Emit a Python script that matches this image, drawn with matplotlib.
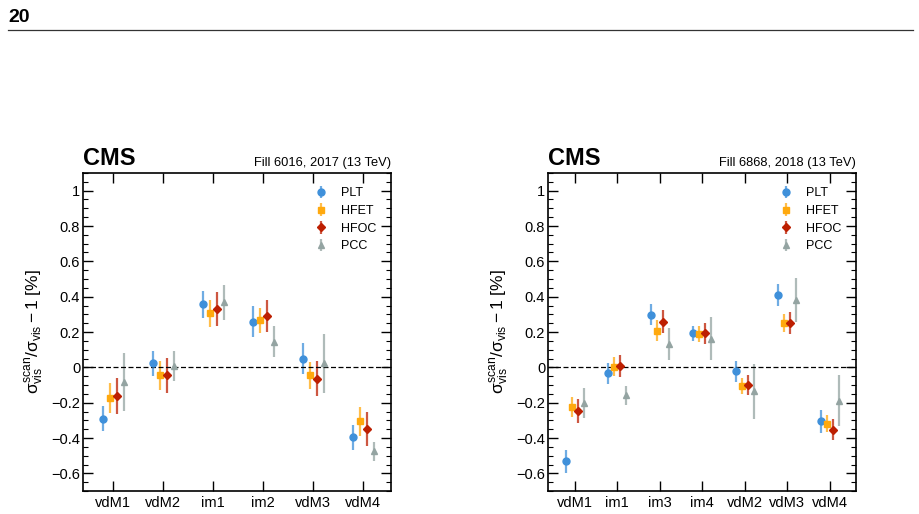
import matplotlib
matplotlib.use("Agg")
import matplotlib.pyplot as plt
from matplotlib.ticker import MultipleLocator
import numpy as np

plt.rcParams['font.family'] = ['Liberation Sans', 'DejaVu Sans']
plt.rcParams['mathtext.fontset'] = 'custom'
plt.rcParams['mathtext.rm'] = 'Liberation Sans'
plt.rcParams['mathtext.it'] = 'Liberation Sans'
plt.rcParams['mathtext.bf'] = 'Liberation Sans:bold'

detectors = ['PLT', 'HFET', 'HFOC', 'PCC']
colors = ['#3f90da', '#ffa90e', '#bd1f01', '#94a4a2']
markers = ['o', 's', 'D', '^']

# 2017, Fill 6016
cats_2017 = ['vdM1', 'vdM2', 'im1', 'im2', 'vdM3', 'vdM4']
plt_2017 = [-0.291, 0.023, 0.357, 0.259, 0.049, -0.397]
plt_2017_err = [0.07, 0.07, 0.077, 0.089, 0.087, 0.07]
hfet_2017 = [-0.174, -0.045, 0.306, 0.267, -0.045, -0.306]
hfet_2017_err = [0.085, 0.083, 0.076, 0.07, 0.076, 0.082]
hfoc_2017 = [-0.163, -0.045, 0.329, 0.291, -0.064, -0.348]
hfoc_2017_err = [0.10, 0.10, 0.095, 0.09, 0.10, 0.097]
pcc_2017 = [-0.083, 0.008, 0.367, 0.146, 0.023, -0.476]
pcc_2017_err = [0.165, 0.085, 0.10, 0.09, 0.167, 0.055]

# 2018, Fill 6868
cats_2018 = ['vdM1', 'im1', 'im3', 'im4', 'vdM2', 'vdM3', 'vdM4']
plt_2018 = [-0.533, -0.034, 0.299, 0.193, -0.023, 0.41, -0.306]
plt_2018_err = [0.066, 0.06, 0.057, 0.043, 0.06, 0.06, 0.065]
hfet_2018 = [-0.223, 0.004, 0.208, 0.189, -0.106, 0.25, -0.318]
hfet_2018_err = [0.057, 0.053, 0.06, 0.044, 0.047, 0.05, 0.05]
hfoc_2018 = [-0.246, 0.008, 0.259, 0.193, -0.098, 0.25, -0.352]
hfoc_2018_err = [0.067, 0.06, 0.065, 0.06, 0.057, 0.062, 0.06]
pcc_2018 = [-0.204, -0.159, 0.132, 0.163, -0.136, 0.382, -0.189]
pcc_2018_err = [0.085, 0.055, 0.09, 0.12, 0.157, 0.125, 0.144]

offsets = [-0.21, -0.07, 0.07, 0.21]

fig = plt.figure(figsize=(9.2, 5.14), dpi=100)

# page header
fig.text(8/920, 1 - 18/514, '20', fontsize=14, fontweight='bold', va='center', ha='left')
fig.add_artist(plt.Line2D([8/920, 913/920], [1 - 30/514, 1 - 30/514], color='#333333', lw=0.9))

def panel(rect, cats, vals, errs, label, xlim):
    ax = fig.add_axes(rect)
    x = np.arange(len(cats))
    for i, (name, c, m) in enumerate(zip(detectors, colors, markers)):
        ms = 4.0 if m == 'D' else 5
        eb = ax.errorbar(x + offsets[i], vals[i], yerr=errs[i], fmt=m, color=c,
                         ms=ms, elinewidth=1.6, capsize=0, label=name)
        for ln in eb[2]:
            ln.set_alpha(0.75)
    ax.axhline(0, color='black', ls='--', lw=0.9, dashes=(4, 2))
    ax.set_xlim(*xlim)
    ax.set_ylim(-0.7, 1.1)
    ax.set_xticks(x)
    ax.set_xticklabels(cats, fontsize=10.5)
    ax.yaxis.set_minor_locator(MultipleLocator(0.05))
    ax.set_yticks([-0.6, -0.4, -0.2, 0, 0.2, 0.4, 0.6, 0.8, 1.0])
    ax.set_yticklabels(['−0.6', '−0.4', '−0.2', '0', '0.2', '0.4', '0.6', '0.8', '1'], fontsize=10.5)
    ax.tick_params(axis='both', which='major', direction='in', top=True, right=True, length=7, width=1)
    ax.tick_params(axis='y', which='major', pad=2)
    ax.tick_params(axis='y', which='minor', direction='in', right=True, left=True, length=3.5, width=0.8)
    ax.tick_params(axis='x', which='minor', bottom=False, top=False)
    for sp in ax.spines.values():
        sp.set_linewidth(1.2)
    ax.set_ylabel(r'$\sigma_{\mathrm{vis}}^{\mathrm{scan}}/\sigma_{\mathrm{vis}}-1$ [%]', fontsize=12.5, labelpad=4)
    ax.text(0.0, 1.008, 'CMS', transform=ax.transAxes, fontsize=17, fontweight='bold', ha='left', va='bottom')
    ax.text(1.0, 1.012, label, transform=ax.transAxes, fontsize=9.3, ha='right', va='bottom')
    ax.legend(loc='upper right', frameon=False, fontsize=9, handlelength=1.2,
              labelspacing=0.45, bbox_to_anchor=(0.99, 0.99), handletextpad=1.0)
    return ax

panel([83/920, 23/514, 308/920, 318/514], cats_2017,
      [plt_2017, hfet_2017, hfoc_2017, pcc_2017],
      [plt_2017_err, hfet_2017_err, hfoc_2017_err, pcc_2017_err],
      'Fill 6016, 2017 (13 TeV)', (-0.6, 5.56))
panel([548/920, 23/514, 308/920, 318/514], cats_2018,
      [plt_2018, hfet_2018, hfoc_2018, pcc_2018],
      [plt_2018_err, hfet_2018_err, hfoc_2018_err, pcc_2018_err],
      'Fill 6868, 2018 (13 TeV)', (-0.63, 6.62))

fig.savefig('out.png', dpi=100)
